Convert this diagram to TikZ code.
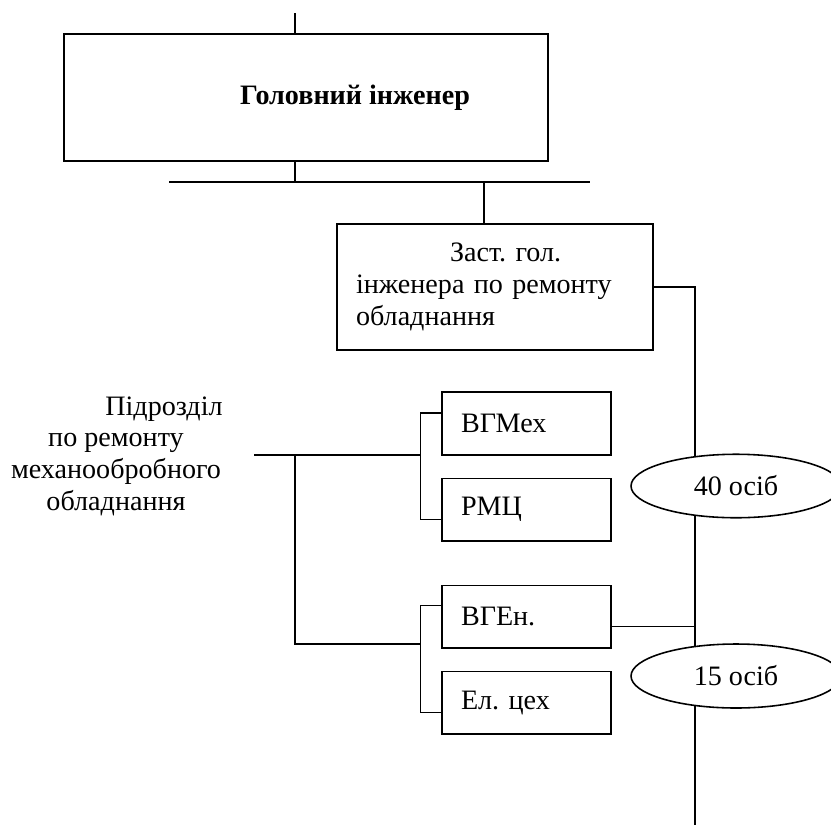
\documentclass[tikz,border=0pt]{standalone}
\usepackage{fontspec}
\setmainfont{Liberation Serif}
\frenchspacing
\usetikzlibrary{positioning, shapes.geometric}
\tikzset{
  bigbox/.style={draw, line width=0.9pt, minimum width=9.68cm, minimum height=2.54cm,
    font=\fontsize{16}{18}\selectfont\bfseries},
  midbox/.style={draw, line width=0.9pt, text width=5.56cm, inner xsep=0.38cm,
    minimum height=2.52cm, align=left},
  sbox/.style={draw, line width=0.9pt, text width=2.62cm, inner xsep=0.38cm,
    minimum height=1.25cm, align=left},
  oval/.style={draw, ellipse, line width=0.9pt, fill=white, minimum width=4.2cm,
    minimum height=1.27cm, inner sep=0pt},
  ln/.style={line width=0.7pt},
}

\begin{document}
\begin{tikzpicture}[x=0.02cm, y=-0.02cm, font=\fontsize{16}{18}\selectfont]
    \useasboundingbox (0,0) rectangle (831,825);
    % boxes
    \node[bigbox] (gi) at (306,97.5) {\hspace*{1.96cm}Головний інженер};
    \node[midbox] (zg) at (495,287) {\hspace*{1.88cm}Заст. гол.\\інженера по ремонту\\обладнання};
    \node[align=center] (pidr) at (116,456) {\hspace*{1.92cm}Підрозділ\\по ремонту\\механообробного\\обладнання};
    \node[sbox] (vgm) at (526.5,423.5) {ВГМех};
    \node[sbox, below=0.44cm of vgm] (rmc) {РМЦ};
    \node[sbox, below=0.86cm of rmc] (vge) {ВГЕн.};
    \node[sbox, below=0.44cm of vge] (elc) {Ел. цех};
    % lines
    \coordinate (topend) at (295,13);
    \coordinate (bus1l) at (169,182);
    \coordinate (bus1z) at (484,182);
    \coordinate (trunkend) at (695,825);
    \coordinate (lbus) at (254,455);
    \coordinate (lknee) at (295,644);
    \draw[ln] (topend) -- (topend |- gi.north);
    \draw[ln] (topend |- gi.south) -- (topend |- bus1l);
    \draw[ln] (bus1l) -- ++(421,0);
    \draw[ln] (bus1z) -- (bus1z |- zg.north);
    \draw[ln] (zg.east) -| (trunkend);
    \draw[ln] ([yshift=-0.2cm]vge.east) -- ++(84,0);
    \draw[ln] (lbus) -- ++(167,0);
    \draw[ln] (lknee |- lbus) -- (lknee) -- ++(126,0);
    \draw[ln] ([yshift=0.21cm]vgm.west) -- ++(-0.42cm,0) |- ([yshift=-0.2cm]rmc.west);
    \draw[ln] ([yshift=0.22cm]vge.west) -- ++(-0.42cm,0) |- ([yshift=-0.2cm]elc.west);
    % head counts
    \node[oval] (p40) at (736,486) {40 осіб};
    \node[oval, minimum height=1.28cm] (p15) at (736,676) {15 осіб};
  \end{tikzpicture}
\end{document}
